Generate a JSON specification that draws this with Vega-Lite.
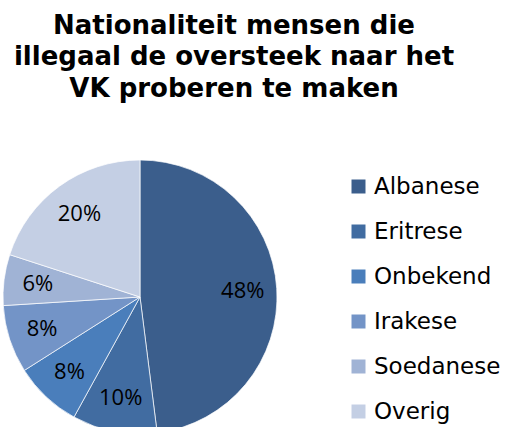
{
  "$schema": "https://vega.github.io/schema/vega-lite/v6.json",
  "width": 280,
  "height": 260,
  "autosize": {"type": "none"},
  "padding": {"left": 0, "top": 167, "right": 225, "bottom": 0},
  "background": "white",
  "title": {
    "text": ["Nationaliteit mensen die", "illegaal de oversteek naar het", "VK proberen te maken"],
    "font": "DejaVu Sans",
    "fontSize": 26,
    "fontWeight": "bold",
    "lineHeight": 31.5,
    "color": "black",
    "anchor": "middle",
    "dx": 94,
    "offset": 57
  },
  "data": {
    "values": [
      {"nationaliteit": "Albanese", "aandeel": 0.48, "volgorde": 1},
      {"nationaliteit": "Eritrese", "aandeel": 0.10, "volgorde": 2},
      {"nationaliteit": "Onbekend", "aandeel": 0.08, "volgorde": 3},
      {"nationaliteit": "Irakese", "aandeel": 0.08, "volgorde": 4},
      {"nationaliteit": "Soedanese", "aandeel": 0.06, "volgorde": 5},
      {"nationaliteit": "Overig", "aandeel": 0.20, "volgorde": 6}
    ]
  },
  "encoding": {
    "theta": {"field": "aandeel", "type": "quantitative", "stack": true},
    "order": {"field": "volgorde", "type": "quantitative"}
  },
  "layer": [
    {
      "mark": {"type": "arc", "outerRadius": 137, "stroke": "white", "strokeWidth": 0.7},
      "encoding": {
        "color": {
          "field": "nationaliteit",
          "type": "nominal",
          "sort": ["Albanese", "Eritrese", "Onbekend", "Irakese", "Soedanese", "Overig"],
          "scale": {
            "domain": ["Albanese", "Eritrese", "Onbekend", "Irakese", "Soedanese", "Overig"],
            "range": ["#3b5e8c", "#416ca1", "#4a7ebb", "#7394c7", "#a0b3d5", "#c4cfe4"]
          },
          "legend": {
            "title": null,
            "orient": "none",
            "legendX": 347,
            "legendY": 8,
            "padding": 0,
            "symbolType": "square",
            "symbolSize": 196,
            "symbolStrokeWidth": 0,
            "labelFont": "DejaVu Sans",
            "labelFontSize": 23,
            "labelColor": "black",
            "labelOffset": 4,
            "rowPadding": 21,
            "labelLimit": 300
          }
        }
      }
    },
    {
      "mark": {"type": "text", "radius": 103, "font": "Open Sans", "fontSize": 22, "color": "black"},
      "encoding": {
        "text": {"field": "aandeel", "type": "quantitative", "format": ".0%"},
        "detail": {"field": "nationaliteit", "type": "nominal"}
      }
    }
  ],
  "config": {"view": {"stroke": null}}
}
